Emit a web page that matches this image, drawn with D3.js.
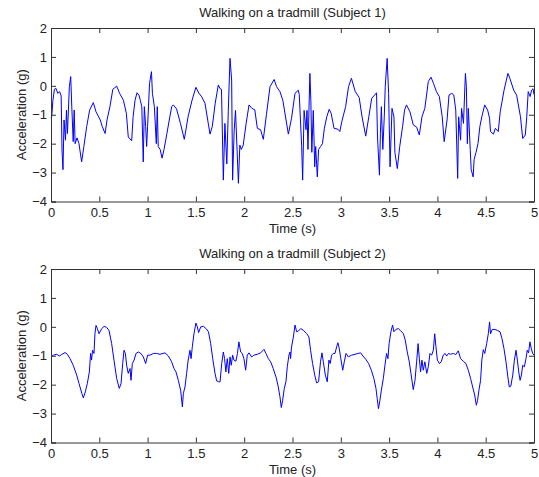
<!DOCTYPE html>
<html>
<head>
<meta charset="utf-8">
<script src="https://cdn.jsdelivr.net/npm/d3@7"></script>
<style>
  body { margin: 0; background: #fff; }
  svg text { font-family: "Liberation Sans", Arial, sans-serif; font-size: 13px; fill: #222; }
</style>
</head>
<body>
<svg width="539" height="477"></svg>
<script>
// Subject 1
let time1 = [0,0.007,0.02,0.035,0.05,0.07,0.09,0.105,0.114,0.124,0.135,0.15,0.16,0.17,0.19,0.204,0.215,0.23,0.24,0.25,0.27,0.29,0.317,0.34,0.37,0.4,0.438,0.466,0.51,0.53,0.56,0.58,0.61,0.64,0.68,0.71,0.75,0.78,0.8,0.835,0.85,0.87,0.89,0.91,0.925,0.94,0.955,0.966,0.98,0.99,1.0,1.02,1.04,1.05,1.07,1.09,1.1,1.11,1.13,1.15,1.17,1.2,1.23,1.25,1.266,1.3,1.34,1.38,1.42,1.46,1.5,1.53,1.56,1.594,1.646,1.67,1.7,1.732,1.75,1.765,1.784,1.8,1.82,1.835,1.853,1.87,1.88,1.896,1.91,1.94,1.955,1.97,1.99,2.02,2.05,2.08,2.11,2.136,2.17,2.198,2.23,2.267,2.31,2.335,2.37,2.4,2.457,2.49,2.526,2.56,2.57,2.595,2.605,2.62,2.64,2.65,2.66,2.68,2.69,2.7,2.715,2.73,2.74,2.757,2.77,2.79,2.81,2.83,2.855,2.88,2.9,2.93,2.97,2.99,3.01,3.05,3.08,3.11,3.13,3.15,3.19,3.22,3.258,3.29,3.32,3.35,3.37,3.38,3.4,3.41,3.42,3.435,3.45,3.46,3.48,3.495,3.51,3.53,3.55,3.56,3.585,3.61,3.64,3.66,3.68,3.716,3.75,3.785,3.813,3.84,3.87,3.906,3.934,3.96,3.99,4.02,4.05,4.07,4.1,4.12,4.15,4.17,4.19,4.21,4.22,4.24,4.25,4.27,4.29,4.3,4.31,4.32,4.34,4.35,4.37,4.38,4.4,4.42,4.44,4.46,4.49,4.52,4.54,4.55,4.58,4.6,4.63,4.65,4.69,4.73,4.75,4.79,4.82,4.86,4.883,4.91,4.925,4.94,4.96,4.975,4.99,5.0];
let accel1 = [-1.1,-1.07,-0.5,-0.12,-0.08,-0.26,-0.2,-0.35,-2.22,-2.9,-1.18,-1.88,-0.84,-1.65,-0.03,0.32,-0.72,-1.93,-0.84,-2.0,-1.8,-2.0,-2.63,-2.1,-1.4,-0.84,-0.58,-0.9,-1.18,-1.4,-1.65,-1.18,-0.72,-0.12,-0.01,-0.26,-0.5,-0.95,-1.77,-1.9,-1.07,-0.5,-0.24,-0.32,-0.5,-0.72,-2.63,-0.72,-1.4,-2.1,-1.4,0.08,0.49,-0.26,-0.72,-2.0,-0.72,-2.1,-2.2,-2.5,-2.2,-1.65,-1.07,-0.72,-0.66,-0.8,-1.3,-1.85,-1.05,-0.5,-0.05,-0.25,-0.38,-0.6,-1.67,-1.4,-0.6,0.03,-0.1,-0.12,-3.26,-1.3,-2.7,-0.9,0.95,0.2,-3.26,-1.56,-0.85,-3.37,-2.05,-2.2,-2.05,-1.3,-0.66,-0.78,-0.83,-1.47,-1.52,-1.85,-1.0,-0.03,0.22,-0.03,-0.2,-0.5,-1.67,-1.12,-0.26,-0.15,-0.3,-2.1,-3.26,-0.85,-1.52,-0.85,-2.2,0.43,-0.5,-2.3,-0.85,-2.8,-2.1,-3.15,-2.2,-2.1,-2.0,-1.47,-1.07,-0.81,-0.95,-1.47,-1.5,-1.58,-1.24,-0.72,-0.03,0.26,0.03,-0.2,-0.4,-1.07,-1.74,-1.07,-0.43,-0.32,-0.24,-1.77,-3.09,-1.65,-0.72,-2.2,-1.07,-0.03,0.95,-0.26,-2.8,-0.78,-1.07,-2.3,-2.86,-2.1,-1.4,-0.84,-0.66,-0.9,-1.35,-1.43,-1.7,-1.07,-0.78,0.15,0.3,0.08,-0.2,-0.37,-1.07,-1.93,-1.18,-0.32,-0.26,-0.32,-0.84,-3.2,-1.07,-1.88,-0.78,-1.3,0.43,-0.03,-2.0,-0.78,-2.2,-2.9,-3.15,-2.55,-2.3,-2.0,-1.4,-1.07,-0.66,-0.84,-1.12,-1.58,-1.67,-1.47,-1.58,-0.9,-0.15,0.43,0.26,-0.15,-0.32,-1.07,-1.82,-1.7,-1.07,-0.2,-0.37,-0.15,-0.1,-0.3];

// Subject 2
let time2 = [0,0.024,0.06,0.086,0.11,0.145,0.17,0.197,0.23,0.266,0.29,0.32,0.335,0.355,0.376,0.397,0.41,0.42,0.43,0.445,0.455,0.466,0.48,0.497,0.525,0.55,0.576,0.6,0.628,0.652,0.68,0.707,0.725,0.742,0.756,0.77,0.783,0.8,0.818,0.828,0.842,0.86,0.88,0.904,0.93,0.956,0.98,1.0,1.025,1.06,1.094,1.128,1.18,1.215,1.249,1.273,1.294,1.318,1.342,1.36,1.37,1.387,1.404,1.42,1.439,1.45,1.463,1.48,1.5,1.515,1.528,1.55,1.577,1.605,1.63,1.653,1.674,1.698,1.715,1.735,1.75,1.767,1.784,1.797,1.81,1.825,1.84,1.853,1.866,1.88,1.894,1.914,1.93,1.945,1.963,1.98,1.997,2.015,2.032,2.05,2.077,2.1,2.135,2.17,2.205,2.225,2.25,2.274,2.3,2.33,2.353,2.37,2.384,2.398,2.415,2.432,2.446,2.463,2.474,2.48,2.49,2.509,2.526,2.543,2.56,2.585,2.612,2.646,2.67,2.687,2.708,2.73,2.75,2.77,2.79,2.805,2.819,2.84,2.86,2.877,2.89,2.905,2.922,2.94,2.957,2.97,2.984,3.0,3.02,3.036,3.054,3.078,3.11,3.147,3.18,3.205,3.23,3.26,3.288,3.316,3.343,3.364,3.377,3.39,3.405,3.42,3.44,3.457,3.474,3.488,3.5,3.519,3.536,3.55,3.57,3.596,3.62,3.647,3.667,3.688,3.709,3.726,3.75,3.768,3.785,3.8,3.813,3.826,3.84,3.854,3.87,3.89,3.906,3.923,3.94,3.958,3.972,3.985,4.0,4.02,4.04,4.06,4.08,4.096,4.116,4.137,4.165,4.19,4.216,4.24,4.268,4.295,4.32,4.344,4.365,4.386,4.403,4.416,4.43,4.447,4.46,4.475,4.49,4.51,4.527,4.54,4.55,4.568,4.596,4.62,4.648,4.668,4.689,4.71,4.727,4.744,4.76,4.78,4.797,4.814,4.828,4.842,4.856,4.87,4.883,4.9,4.917,4.93,4.944,4.958,4.972,4.986,5.0];
let accel2 = [-1.04,-0.98,-0.95,-1.01,-0.96,-0.89,-0.95,-1.1,-1.33,-1.67,-1.96,-2.31,-2.46,-2.25,-1.96,-1.56,-0.92,-1.15,-0.81,-0.92,-0.24,0.05,-0.06,-0.24,-0.06,0.02,-0.02,-0.12,-0.58,-1.15,-1.79,-2.13,-1.96,-1.27,-0.81,-0.92,-1.33,-1.61,-1.44,-1.85,-1.27,-1.15,-0.92,-0.87,-0.92,-1.04,-1.27,-0.98,-0.98,-0.92,-0.92,-0.95,-0.9,-1.01,-1.21,-1.44,-1.56,-1.85,-2.19,-2.77,-2.31,-2.08,-1.61,-1.15,-0.81,-1.1,-0.69,-0.24,0.13,0,-0.2,0,0.02,-0.06,-0.17,-0.58,-1.1,-1.61,-1.87,-1.9,-1.9,-1.27,-0.87,-1.1,-1.56,-1.1,-1.61,-1.04,-1.33,-0.98,-1.15,-1.19,-0.92,-0.52,-0.87,-0.92,-1.1,-1.5,-0.98,-0.9,-1.04,-0.98,-0.95,-0.9,-0.78,-0.92,-1.1,-1.21,-1.44,-1.74,-2.08,-2.42,-2.79,-2.54,-2.13,-1.9,-1.38,-0.98,-0.87,-1.1,-0.7,-0.35,0.06,-0.17,-0.15,-0.06,-0.12,-0.23,-0.35,-0.81,-1.27,-1.67,-1.94,-1.9,-1.21,-0.9,-1.21,-1.67,-1.9,-1.15,-1.27,-0.98,-0.92,-0.92,-0.69,-0.55,-0.75,-1.1,-1.5,-1.21,-0.92,-1.04,-0.98,-0.95,-0.92,-0.9,-1.01,-1.13,-1.27,-1.5,-1.79,-2.13,-2.48,-2.83,-2.54,-2.19,-1.79,-1.33,-0.92,-1.1,-0.58,-0.17,0.06,-0.17,-0.09,-0.06,-0.14,-0.23,-0.46,-0.87,-1.21,-1.61,-2.17,-1.85,-1.21,-0.58,-1.1,-1.56,-1.15,-1.5,-1.21,-1.61,-1.38,-0.92,-0.98,-0.81,-0.24,-0.69,-1.15,-1.27,-1.21,-0.98,-0.92,-1.01,-0.92,-0.95,-0.92,-0.96,-0.83,-1.1,-1.19,-1.27,-1.5,-1.79,-2.08,-2.36,-2.71,-2.54,-2.19,-1.85,-1.15,-0.79,-0.92,-0.58,-0.24,0.17,-0.24,-0.09,-0.09,-0.12,-0.17,-0.4,-0.75,-1.21,-1.67,-2.08,-2.05,-1.67,-1.15,-0.81,-1.15,-1.56,-1.85,-1.67,-1.33,-1.38,-1.1,-0.81,-0.9,-0.52,-0.75,-0.92,-0.98];

let xTicks = [0, 0.5, 1, 1.5, 2, 2.5, 3, 3.5, 4, 4.5, 5];
let yTicks = [-4, -3, -2, -1, 0, 1, 2];
let titles = ["Walking on a tradmill (Subject 1)", "Walking on a tradmill (Subject 2)"];

let svg = d3.select("svg");

let left = 51, right = 534;
let panelTops = [28, 269];
let panelH = 173.5;
let tickLen = 5;

let xScale = d3.scaleLinear().domain([0, 5]).range([left, right]);

function drawPanel(top, t, a, title) {
    let yScale = d3.scaleLinear().domain([-4, 2]).range([top + panelH, top]);
    let g = svg.append("g");

    // the signal
    let pts = t.map((d, i) => [d, a[i]]);
    let line = d3.line().x(d => xScale(d[0])).y(d => yScale(d[1]));
    g.append("path")
        .datum(pts)
        .attr("d", line)
        .attr("fill", "none")
        .attr("stroke", "#0000ff")
        .attr("stroke-width", 1);

    // axes: ticks point inward on all four sides, like matlab's box
    let bottom = d3.axisBottom(xScale).tickValues(xTicks).tickSize(-tickLen).tickPadding(6).tickFormat(d3.format("~g"));
    let topAx = d3.axisTop(xScale).tickValues(xTicks).tickSize(-tickLen).tickFormat("");
    let leftAx = d3.axisLeft(yScale).tickValues(yTicks).tickSize(-tickLen).tickPadding(4).tickFormat(d3.format("~g"));
    let rightAx = d3.axisRight(yScale).tickValues(yTicks).tickSize(-tickLen).tickFormat("");

    g.append("g").attr("transform", "translate(0," + (top + panelH) + ")").call(bottom);
    g.append("g").attr("transform", "translate(0," + top + ")").call(topAx);
    g.append("g").attr("transform", "translate(" + left + ",0)").call(leftAx);
    g.append("g").attr("transform", "translate(" + right + ",0)").call(rightAx);

    g.selectAll(".domain").attr("stroke", "#333");
    g.selectAll(".tick line").attr("stroke", "#333");
    g.selectAll(".tick text").attr("font-size", 13).attr("font-family", null).attr("fill", "#222");

    g.append("text")
        .attr("x", (left + right) / 2)
        .attr("y", top - 11)
        .attr("text-anchor", "middle")
        .text(title);

    g.append("text")
        .attr("x", (left + right) / 2)
        .attr("y", top + panelH + 31)
        .attr("text-anchor", "middle")
        .text("Time (s)");

    g.append("text")
        .attr("transform", "translate(26," + (top + panelH / 2) + ") rotate(-90)")
        .attr("text-anchor", "middle")
        .text("Acceleration (g)");
}

drawPanel(panelTops[0], time1, accel1, titles[0]);
drawPanel(panelTops[1], time2, accel2, titles[1]);
</script>
</body>
</html>
